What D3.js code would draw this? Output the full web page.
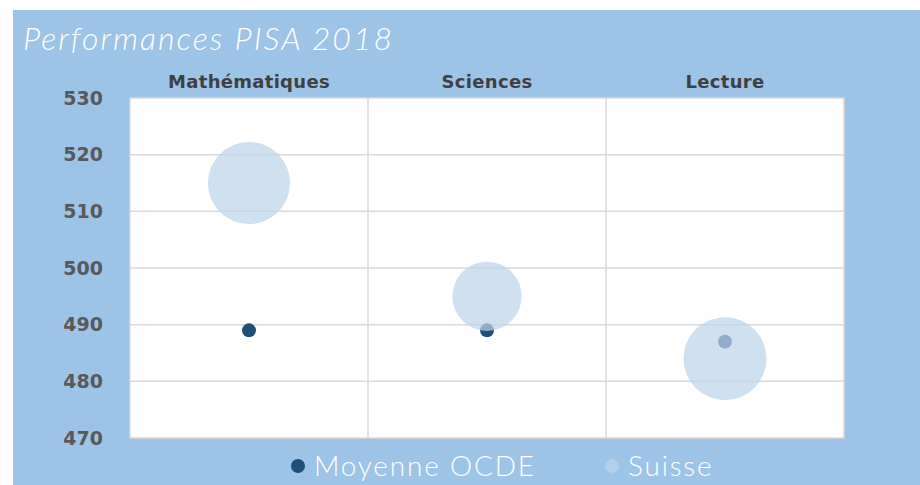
<!DOCTYPE html>
<html>
<head>
<meta charset="utf-8">
<script src="https://cdn.jsdelivr.net/npm/d3@7"></script>
<style>
  body { margin: 0; background: #fff; }
  text { font-family: "Lato", sans-serif; }
</style>
</head>
<body>
<div id="vis-container"></div>
<script>
const categories = ["Mathématiques", "Sciences", "Lecture"];
const ocdeValues = [489, 489, 487];
const suisseValues = [515, 495, 484];
const suisseSizes = [100, 71, 102];   // bubble size
const yTicks = [470, 480, 490, 500, 510, 520, 530];
const seriesNames = ["Moyenne OCDE", "Suisse"];

const width = 920, height = 485;
const margin = { top: 98, right: 76, bottom: 47, left: 130 };

const svg = d3.select("#vis-container")
              .append("svg")
              .attr("width", width)
              .attr("height", height);

// blue panel
svg.append("rect")
   .attr("x", 13).attr("y", 10)
   .attr("width", width - 13).attr("height", height - 10)
   .attr("fill", "#9dc3e6");

svg.append("text")
   .attr("x", 23).attr("y", 50)
   .attr("fill", "#fff")
   .attr("font-size", "32px")
   .attr("font-style", "italic")
   .attr("font-weight", 300)
   .attr("letter-spacing", "2px")
   .text("Performances PISA 2018");

const x = d3.scaleBand()
            .domain(categories)
            .range([margin.left, width - margin.right]);

const y = d3.scaleLinear()
            .domain([470, 530])
            .range([height - margin.bottom, margin.top]);

const r = d3.scaleSqrt()
            .domain([0, d3.max(suisseSizes)])
            .range([0, 41.5]);

// plot area
svg.append("rect")
   .attr("x", margin.left).attr("y", margin.top)
   .attr("width", width - margin.right - margin.left)
   .attr("height", height - margin.bottom - margin.top)
   .attr("fill", "#fff")
   .attr("stroke", "#d9d9d9")
   .attr("stroke-width", 1.5);

// horizontal grid
svg.append("g")
   .selectAll("line")
   .data(yTicks.slice(1, -1))
   .join("line")
   .attr("x1", margin.left).attr("x2", width - margin.right)
   .attr("y1", d => y(d)).attr("y2", d => y(d))
   .attr("stroke", "#d9d9d9").attr("stroke-width", 1.5);

// vertical dividers between categories
svg.append("g")
   .selectAll("line")
   .data(categories.slice(1))
   .join("line")
   .attr("x1", d => x(d)).attr("x2", d => x(d))
   .attr("y1", margin.top).attr("y2", height - margin.bottom)
   .attr("stroke", "#d9d9d9").attr("stroke-width", 1.5);

// y axis labels
const yAxis = svg.append("g")
   .attr("transform", `translate(${margin.left - 27},0)`)
   .call(d3.axisLeft(y).tickValues(yTicks).tickSize(0).tickPadding(0));
yAxis.select(".domain").remove();
yAxis.selectAll("text")
     .attr("fill", "#595959")
     .attr("font-size", "19px")
     .attr("font-weight", "bold")
     .style("font-family", "'DejaVu Sans', sans-serif");

// category labels on top
const xAxis = svg.append("g")
   .attr("transform", `translate(0,${margin.top - 10})`)
   .call(d3.axisTop(x).tickSize(0).tickPadding(0));
xAxis.select(".domain").remove();
xAxis.selectAll("text")
     .attr("fill", "#404040")
     .attr("font-size", "18px")
     .attr("font-weight", "bold")
     .attr("letter-spacing", "0.3px")
     .style("font-family", "'DejaVu Sans', sans-serif");

const cx = d => x(d) + x.bandwidth() / 2;

// OCDE points
svg.append("g")
   .selectAll("circle")
   .data(categories)
   .join("circle")
   .attr("cx", d => cx(d))
   .attr("cy", (d, i) => y(ocdeValues[i]))
   .attr("r", 7)
   .attr("fill", "#1f4e79");

// Suisse bubbles
svg.append("g")
   .selectAll("circle")
   .data(categories)
   .join("circle")
   .attr("cx", d => cx(d))
   .attr("cy", (d, i) => y(suisseValues[i]))
   .attr("r", (d, i) => r(suisseSizes[i]))
   .attr("fill", "#bcd4eb")
   .attr("fill-opacity", 0.72);

// legend
const legend = svg.append("g").attr("transform", "translate(298,466)");
const legendX = [0, 314];
const legendStyle = [{ fill: "#1f4e79", op: 1 }, { fill: "#bcd4eb", op: 0.72 }];
seriesNames.forEach((name, i) => {
  legend.append("circle")
        .attr("cx", legendX[i]).attr("cy", 0).attr("r", 7)
        .attr("fill", legendStyle[i].fill)
        .attr("fill-opacity", legendStyle[i].op);
  legend.append("text")
        .attr("x", legendX[i] + 16).attr("y", 10)
        .attr("fill", "#fff")
        .attr("font-size", "28px")
        .attr("font-weight", 300)
        .attr("letter-spacing", "1.8px")
        .text(name);
});
</script>
</body>
</html>
